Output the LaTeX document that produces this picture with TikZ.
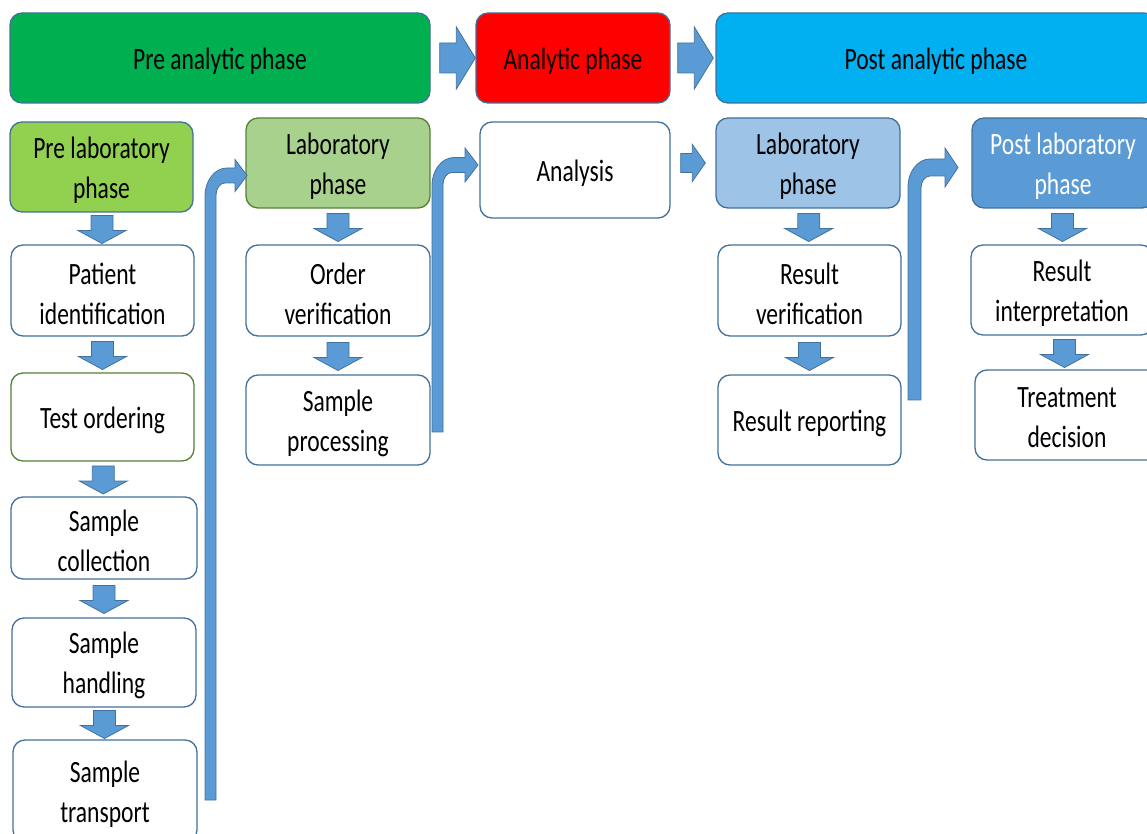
\documentclass[tikz,border=0pt]{standalone}
\usepackage{fontspec}
\setmainfont{Carlito}[FakeStretch=0.76]
\usetikzlibrary{calc}

\definecolor{edgeblue}{HTML}{41719C}
\definecolor{edgegreen}{HTML}{548235}
\definecolor{arrowblue}{HTML}{5B9BD5}
\definecolor{preanalytic}{HTML}{00B050}
\definecolor{analytic}{HTML}{FF0000}
\definecolor{postanalytic}{HTML}{00B0F0}
\definecolor{prelab}{HTML}{92D050}
\definecolor{labgreen}{HTML}{A9D18E}
\definecolor{labblue}{HTML}{9DC3E6}
\definecolor{postlab}{HTML}{5B9BD5}

\newcommand\boxfont{\fontsize{23.25}{30}\selectfont}

\tikzset{
  box/.style 2 args={draw=edgeblue, line width=1pt, rounded corners=9pt,
    fill=white, minimum width=#1*0.75pt, minimum height=#2*0.75pt,
    inner sep=0pt},
  % caption of a box, set slightly below its centre
  boxtext/.style={inner sep=0pt, align=center, font=\boxfont, text=black,
    yshift=-2.3pt},
  txt/.style={label={[boxtext]center:#1}},
  wtxt/.style={label={[boxtext, text=white]center:#1}},
  blockarrow/.style={fill=arrowblue, draw=edgeblue, line width=0.6pt, line join=miter},
}

% downward block arrow centred in the gap between two stacked nodes
\newcommand\downblock[2]{%
  \coordinate (m) at ($(#1.south)!0.5!(#2.north)$);
  \filldraw[blockarrow]
    ($(m)+(-11,-13)$) -- ($(m)+(11,-13)$) -- ($(m)+(11,2)$) -- ($(m)+(24,2)$)
    -- ($(m)+(0,15)$) -- ($(m)+(-24,2)$) -- ($(m)+(-11,2)$) -- cycle;
}

% rightward block arrow: source, target, tail gap, tip gap, shaft half, head half, head length
\newcommand\rightblock[7]{%
  \coordinate (tl) at ($(#1.east)+(#3,0)$);
  \coordinate (tp) at ($(#2.west)+(-#4,0)$);
  \coordinate (tb) at (tl |- tp);
  \filldraw[blockarrow]
    ($(tb)+(0,-#5)$) -- ($(tp)+(-#7,-#5)$) -- ($(tp)+(-#7,-#6)$) -- (tp)
    -- ($(tp)+(-#7,#6)$) -- ($(tp)+(-#7,#5)$) -- ($(tb)+(0,#5)$) -- cycle;
}

\begin{document}
\begin{tikzpicture}[x=0.75pt, y=-0.75pt]
\useasboundingbox (0,0) rectangle (1147,834);
\clip (0,0) rectangle (1147,834);

% phase headers
\node[box={420}{90}, fill=preanalytic, txt={Pre analytic phase}] (pre) at (220,58) {};
\node[box={194}{90}, fill=analytic, txt={Analytic phase}] (ana) at (573,58) {};
\node[box={440}{90}, fill=postanalytic, txt={Post analytic phase}] (post) at (936,58) {};

% sub-phase headers
\node[box={183}{90}, fill=prelab, txt={Pre laboratory\\phase}] (prelab) at (101.5,167) {};
\node[box={184}{90}, fill=labgreen, draw=edgegreen, txt={Laboratory\\phase}] (labg) at (338,163) {};
\node[box={190}{96}, txt={Analysis}] (analysis) at (575,170) {};
\node[box={184}{90}, fill=labblue, txt={Laboratory\\phase}] (labb) at (808,163) {};
\node[box={182}{90}, fill=postlab, wtxt={Post laboratory\\phase}] (postlab) at (1063,163) {};

% pre-laboratory steps
\node[box={183}{91}, txt={Patient\\identification}] (patient) at (102.5,290.5) {};
\node[box={183}{88}, draw=edgegreen, txt={Test ordering}] (order) at (102.5,417) {};
\node[box={186}{82}, txt={Sample\\collection}] (collect) at (104,538) {};
\node[box={184}{89}, txt={Sample\\handling}] (handle) at (104,662.5) {};
\node[box={184}{102}, txt={Sample\\transport}] (transport) at (105,791) {};

% laboratory steps
\node[box={184}{91}, txt={Order\\verification}] (verify) at (338,290.5) {};
\node[box={184}{90}, txt={Sample\\processing}] (process) at (338,420) {};

% post-analytic laboratory steps
\node[box={183}{91}, txt={Result\\verification}] (resver) at (809.5,290.5) {};
\node[box={183}{90}, txt={Result reporting}] (resrep) at (809.5,420) {};

% post-laboratory steps
\node[box={182}{90}, txt={Result\\interpretation}] (resint) at (1062,290) {};
\node[box={184}{90}, txt={Treatment\\decision}] (treat) at (1067,415) {};

% arrows between the phase headers
\rightblock{pre}{ana}{9}{0}{15}{31}{19}
\rightblock{ana}{post}{7}{2}{15}{31}{19}
\rightblock{analysis}{labb}{10}{10}{9.5}{18.5}{13}

% arrows down each column
\downblock{prelab}{patient}
\downblock{patient}{order}
\downblock{order}{collect}
\downblock{collect}{handle}
\downblock{handle}{transport}
\downblock{labg}{verify}
\downblock{verify}{process}
\downblock{labb}{resver}
\downblock{resver}{resrep}
\downblock{postlab}{resint}
\downblock{resint}{treat}

% bent arrows leading from one column to the next
\coordinate (b1) at (205,800);
\coordinate (b2) at (432,432);
\coordinate (b3) at (908,400);

\filldraw[blockarrow]
  (b1) -- (205,196) .. controls (205,180.5) and (214.9,168) .. (227,168)
  -- (235,168) -- (235,159.5) -- (247,175.5) -- (235,191.5) -- (235,183)
  -- (225,183) .. controls (220,183) and (216,188.4) .. (216,195)
  -- (216,800) -- cycle;

\filldraw[blockarrow]
  (b2) -- (432,185.5) .. controls (432,170) and (441.9,157.5) .. (454,157.5)
  -- (465,157.5) -- (465,148) -- (478,165) -- (465,182) -- (465,172.5)
  -- (452,172.5) .. controls (447,172.5) and (443,177.9) .. (443,184.5)
  -- (443,432) -- cycle;

\filldraw[blockarrow]
  (b3) -- (908,187) .. controls (908,171.5) and (917.9,159) .. (930,159)
  -- (945,159) -- (945,148) -- (958,167.5) -- (945,187) -- (945,176)
  -- (930,176) .. controls (925,176) and (921,181.4) .. (921,188)
  -- (921,400) -- cycle;

\end{tikzpicture}
\end{document}
